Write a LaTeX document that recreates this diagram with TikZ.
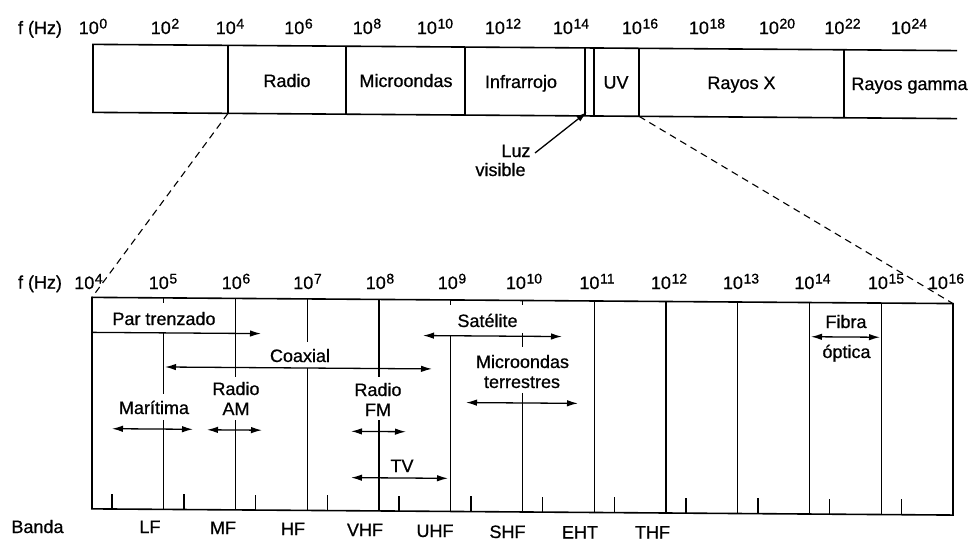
\documentclass[tikz,border=0pt]{standalone}
\usepackage{fontspec}
\setmainfont{Liberation Sans}[FakeBold=0.7]
\usetikzlibrary{arrows.meta}
\newcommand\pw[1]{\fontsize{18}{18}\selectfont 10\kern0.6pt\raisebox{5.5pt}{\fontsize{14}{14}\selectfont #1}}
\begin{document}
\begin{tikzpicture}[x=1pt,y=-1pt,
  lbl/.style={font=\fontsize{18}{20}\selectfont, inner sep=0pt, anchor=base},
  num/.style={inner sep=0pt, anchor=base},
  frame/.style={line width=1.6pt},
  seg/.style={line width=1.4pt},
  arr/.style={line width=1.3pt, -{Latex[length=11pt,width=6.5pt]}},
  darr/.style={line width=1.3pt, {Latex[length=11pt,width=6.5pt]}-{Latex[length=11pt,width=6.5pt]}},
  zoomline/.style={line width=1.1pt, dash pattern=on 7pt off 5pt}
]
\useasboundingbox (0,0) rectangle (972,541);
\fill[white] (0,0) rectangle (972,541);

\begin{scope}[cm={1,-0.0072,0,1,(0,0)}]
% top spectrum bar
\draw[frame] (957,43.7) -- (93,43.7) -- (93,111.7) -- (957,111.7);
\foreach \x in {228,346,465,585,594,639,844}
  \draw[seg] (\x,43.7) -- (\x,111.7);
\coordinate (zl) at (228,111.7);
\coordinate (zr) at (639,111.7);
% bottom box
\draw[frame] (92,296.7) rectangle (953,508.2);
\coordinate (bl) at (92,296.7);
\coordinate (br) at (953,296.7);
% dashed zoom lines
\draw[zoomline] (zl) -- (bl);
\draw[zoomline] (zr) -- (br);
% decade lines
\draw[seg] (163.75,296.7) -- (163.75,301.7) (163.75,331.7) -- (163.75,392.8) (163.75,418.8) -- (163.75,508.2);
\draw[seg] (235.5,296.7) -- (235.5,375.3) (235.5,418.3) -- (235.5,508.2);
\draw[seg] (307.25,296.7) -- (307.25,339.8) (307.25,365.8) -- (307.25,508.2);
\draw[seg] (379,296.7) -- (379,374.3) (379,417.3) -- (379,508.2);
\draw[seg] (450.75,296.7) -- (450.75,301.7) (450.75,332.5) -- (450.75,508.2);
\draw[seg] (522.5,296.7) -- (522.5,301.7) (522.5,329.2) -- (522.5,343.2) (522.5,389.2) -- (522.5,508.2);
\foreach \x in {594.25,666,737.75,809.5,881.25}
  \draw[seg] (\x,296.7) -- (\x,508.2);
% small ticks at the bottom
\foreach \x in {112.1,183.8,255.6,327.3,399,470.8,542.5,614.3,686,757.8,829.5,901.3}
  \draw[seg] (\x,508.2) -- (\x,493);
% range arrows
\draw[arr] (92,331.7) -- (261,331.7);
\draw[darr] (165,365.8) -- (432,365.8);
\draw[darr] (423,332.5) -- (562,332.5);
\draw[darr] (466,399.2) -- (578,399.2);
\draw[darr] (112,427.9) -- (193,427.9);
\draw[darr] (207,428.3) -- (262,428.3);
\draw[darr] (351,428.8) -- (406,428.8);
\draw[darr] (351,475.1) -- (448,475.1);
\draw[darr] (811,330.9) -- (880,330.9);
\end{scope}

% top axis labels
\node[lbl] (fhz1) at (40,34) {f (Hz)};
\node[num] (t0) at (93,34) {\pw{0}};
\node[num] (t2) at (165,34) {\pw{2}};
\node[num] (t4) at (230,34) {\pw{4}};
\node[num] (t6) at (298.5,34) {\pw{6}};
\node[num] (t8) at (367,34) {\pw{8}};
\node[num] (t10) at (435,34) {\pw{10}};
\node[num] (t12) at (503,34) {\pw{12}};
\node[num] (t14) at (571,34) {\pw{14}};
\node[num] (t16) at (640,34) {\pw{16}};
\node[num] (t18) at (707,34) {\pw{18}};
\node[num] (t20) at (777,34) {\pw{20}};
\node[num] (t22) at (842.5,34) {\pw{22}};
\node[num] (t24) at (909,34) {\pw{24}};

% bar texts
\node[lbl] (radio) at (287,87) {Radio};
\node[lbl] (micro) at (406,87) {Microondas};
\node[lbl] (infra) at (521,88) {Infrarrojo};
\node[lbl] (uv) at (616,88.5) {UV};
\node[lbl] (rx) at (741.5,89) {Rayos X};
\node[lbl] (rg) at (909.5,90) {Rayos gamma};

% visible light
\node[lbl] (luz) at (516,157) {Luz};
\node[lbl] (visible) at (500.5,176) {visible};
\coordinate (lvfrom) at (535,153);
\coordinate (lvtip) at (587,112);
\draw[arr] (lvfrom) -- (lvtip);

% bottom axis labels
\node[lbl] (fhz2) at (40,288.5) {f (Hz)};
\node[num] (b4) at (88.5,289) {\pw{4}};
\node[num] (b5) at (163,289) {\pw{5}};
\node[num] (b6) at (236,289) {\pw{6}};
\node[num] (b7) at (307.5,289) {\pw{7}};
\node[num] (b8) at (380,289) {\pw{8}};
\node[num] (b9) at (452,289) {\pw{9}};
\node[num] (b10) at (524,289) {\pw{10}};
\node[num] (b11) at (597,289) {\pw{11}};
\node[num] (b12) at (669,289) {\pw{12}};
\node[num] (b13) at (741,289) {\pw{13}};
\node[num] (b14) at (812.5,289) {\pw{14}};
\node[num] (b15) at (886,289) {\pw{15}};
\node[num] (b16) at (946,289) {\pw{16}};

% medium labels
\node[lbl] (partr) at (164,325) {Par trenzado};
\node[lbl] (coax) at (300,362) {Coaxial};
\node[lbl] (ram1) at (236,395) {Radio};
\node[lbl] (ram2) at (236,415) {AM};
\node[lbl] (marit) at (154,414) {Marítima};
\node[lbl] (rfm1) at (378,396) {Radio};
\node[lbl] (rfm2) at (378,416) {FM};
\node[lbl] (tv) at (402,472) {TV};
\node[lbl] (sat) at (487.5,327) {Satélite};
\node[lbl] (mt1) at (522.5,368) {Microondas};
\node[lbl] (mt2) at (522,388) {terrestres};
\node[lbl] (fib1) at (846,328) {Fibra};
\node[lbl] (fib2) at (846.5,358) {óptica};

% band labels
\node[lbl] (banda) at (37.5,533) {Banda};
\node[lbl] (lf) at (150,533) {LF};
\node[lbl] (mf) at (223,534) {MF};
\node[lbl] (hf) at (293,535) {HF};
\node[lbl] (vhf) at (365,536) {VHF};
\node[lbl] (uhf) at (435,537) {UHF};
\node[lbl] (shf) at (507.5,538) {SHF};
\node[lbl] (eht) at (580,538.5) {EHT};
\node[lbl] (thf) at (652.5,538.5) {THF};
\end{tikzpicture}
\end{document}
